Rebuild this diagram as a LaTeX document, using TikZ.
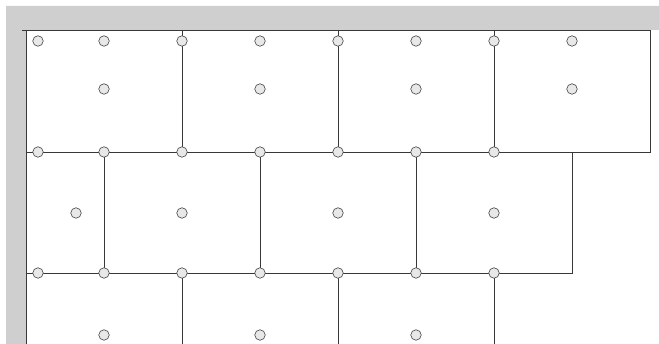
\documentclass[tikz,border=0pt]{standalone}
\begin{document}
\begin{tikzpicture}[x=1pt,y=-1pt,
  wall/.style={fill=black!19,draw=none},
  edge/.style={draw=black!78,line width=0.9pt},
  dot/.style={circle,draw=black!75,fill=black!9,line width=0.6pt,minimum size=10.5pt,inner sep=0pt}]
\useasboundingbox (0,0) rectangle (659,344);
\fill[wall] (6,6) -- (659,6) -- (659,30) -- (26,30) -- (26,344) -- (6,344) -- cycle;
% coordinates
\coordinate (tl) at (22,30);
\coordinate (tr) at (650,30);
\coordinate (lb) at (26,344);
\coordinate (lt) at (26,30);
\coordinate (m1l) at (26,152);
\coordinate (m1r) at (650,152);
\coordinate (m2l) at (26,273);
\coordinate (m2r) at (572,273);
\coordinate (a1) at (182,30);\coordinate (a2) at (338,30);\coordinate (a3) at (494,30);
\coordinate (b1) at (182,152);\coordinate (b2) at (338,152);\coordinate (b3) at (494,152);
\coordinate (c1) at (104,152);\coordinate (c2) at (260,152);\coordinate (c3) at (416,152);\coordinate (c4) at (572,152);
\coordinate (d1) at (104,273);\coordinate (d2) at (260,273);\coordinate (d3) at (416,273);
\coordinate (e1) at (182,273);\coordinate (e2) at (338,273);\coordinate (e3) at (494,273);
\coordinate (f1) at (182,344);\coordinate (f2) at (338,344);\coordinate (f3) at (494,344);
% lines
\draw[edge] (tl) -- (tr) -- (m1r) -- (m1l);
\draw[edge] (lt) -- (lb);
\draw[edge] (a1) -- (b1);\draw[edge] (a2) -- (b2);\draw[edge] (a3) -- (b3);
\draw[edge] (c1) -- (d1);\draw[edge] (c2) -- (d2);\draw[edge] (c3) -- (d3);
\draw[edge] (c4) -- (m2r) -- (m2l);
\draw[edge] (e1) -- (f1);\draw[edge] (e2) -- (f2);\draw[edge] (e3) -- (f3);
% circles
\foreach \x [count=\i] in {38,104,182,260,338,416,494,572}
  \node[dot] (r1\i) at (\x,41) {};
\foreach \x [count=\i] in {104,260,416,572}
  \node[dot] (r2\i) at (\x,89) {};
\foreach \x [count=\i] in {38,104,182,260,338,416,494}
  \node[dot] (r3\i) at (\x,152) {};
\foreach \x [count=\i] in {76,182,338,494}
  \node[dot] (r4\i) at (\x,213) {};
\foreach \x [count=\i] in {38,104,182,260,338,416,494}
  \node[dot] (r5\i) at (\x,273) {};
\foreach \x [count=\i] in {104,260,416}
  \node[dot] (r6\i) at (\x,335) {};
\end{tikzpicture}
\end{document}
